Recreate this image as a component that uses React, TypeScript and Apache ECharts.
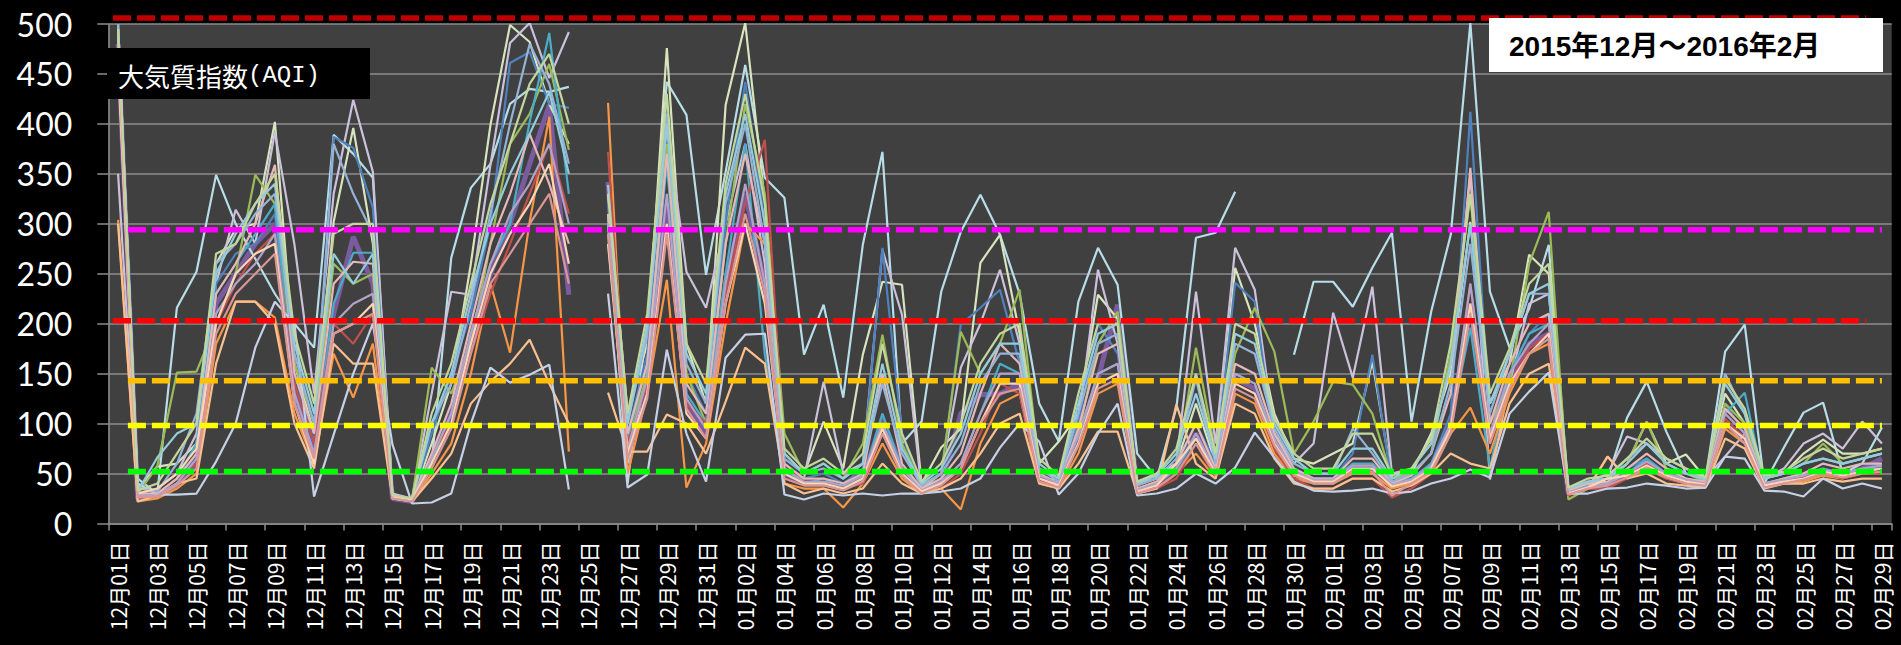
import React, { useEffect, useRef } from "react";
import * as echarts from "echarts";

const categories: string[] = [
  "12月01日","12月02日","12月03日","12月04日","12月05日","12月06日","12月07日","12月08日","12月09日","12月10日",
  "12月11日","12月12日","12月13日","12月14日","12月15日","12月16日","12月17日","12月18日","12月19日","12月20日",
  "12月21日","12月22日","12月23日","12月24日","12月25日","12月26日","12月27日","12月28日","12月29日","12月30日",
  "12月31日","01月01日","01月02日","01月03日","01月04日","01月05日","01月06日","01月07日","01月08日","01月09日",
  "01月10日","01月11日","01月12日","01月13日","01月14日","01月15日","01月16日","01月17日","01月18日","01月19日",
  "01月20日","01月21日","01月22日","01月23日","01月24日","01月25日","01月26日","01月27日","01月28日","01月29日",
  "01月30日","01月31日","02月01日","02月02日","02月03日","02月04日","02月05日","02月06日","02月07日","02月08日",
  "02月09日","02月10日","02月11日","02月12日","02月13日","02月14日","02月15日","02月16日","02月17日","02月18日",
  "02月19日","02月20日","02月21日","02月22日","02月23日","02月24日","02月25日","02月26日","02月27日","02月28日",
  "02月29日",
];

const yTicks: number[] = [0, 50, 100, 150, 200, 250, 300, 350, 400, 450, 500];

// AQI per monitoring station (one array per station)
const st01: (number | null)[] = [495,45,30,216,252,349,300,265,230,200,176,389,370,346,30,22,60,266,336,360,420,435,432,437,null,309,40,200,442,409,249,352,459,346,326,169,219,126,279,372,80,102,232,292,329,289,230,120,82,222,276,239,70,45,116,286,291,332,null,null,169,242,242,217,256,291,102,212,289,501,232,176,215,279,35,40,45,106,142,92,50,45,172,199,40,76,111,121,50,60,96];
const st02: (number | null)[] = [500,35,57,60,80,260,295,300,402,160,90,302,396,280,28,24,80,140,260,399,499,482,420,380,null,330,110,180,476,180,120,419,501,322,70,50,102,55,169,242,239,40,76,95,261,289,190,60,82,110,229,205,40,50,60,120,60,256,200,110,65,60,70,80,162,45,50,90,150,302,120,160,269,250,30,40,45,60,102,60,69,45,130,100,45,50,70,84,70,70,75];
const st03: (number | null)[] = [350,30,35,50,90,240,314,280,392,279,130,330,424,352,30,25,130,232,229,359,481,501,446,492,null,300,60,150,400,252,216,300,380,260,55,45,142,50,60,274,209,35,50,156,200,254,180,55,45,100,254,180,40,45,60,232,80,276,234,90,60,80,211,146,237,50,55,80,160,349,44,140,220,230,35,40,50,87,80,65,55,45,67,90,45,55,80,90,75,102,80];
const st04: (number | null)[] = [490,28,28,40,70,240,270,280,310,150,80,387,376,316,27,24,90,150,210,300,461,472,420,416,null,320,90,170,420,150,110,300,442,300,60,45,50,40,55,276,90,32,45,199,216,234,160,50,40,100,200,170,35,40,60,100,60,241,222,80,55,45,45,70,169,40,45,60,110,412,100,150,190,210,32,38,40,55,65,50,45,40,120,90,40,45,50,55,50,55,60];
const st05: (number | null)[] = [480,30,57,151,152,200,250,349,320,160,100,260,240,250,28,24,156,130,180,280,380,410,460,374,null,290,80,150,380,150,100,280,420,330,90,50,60,45,80,189,80,38,50,192,150,180,234,55,45,90,180,212,38,45,55,176,70,170,216,172,70,102,142,139,110,45,50,70,170,330,100,140,260,312,24,35,40,60,102,55,50,42,120,100,45,50,60,80,60,65,70];
const st06: (number | null)[] = [470,30,30,45,80,230,260,290,320,130,70,220,271,271,26,24,60,110,190,260,300,402,491,330,null,280,86,160,360,130,100,250,380,169,55,40,45,35,45,110,55,35,40,60,110,160,150,45,38,80,150,160,35,40,55,85,55,150,140,80,50,45,45,60,60,40,45,60,100,196,55,150,190,200,32,38,40,50,65,50,45,40,110,131,40,45,50,55,50,55,55];
const st07: (number | null)[] = [480,25,28,38,60,220,250,280,300,130,75,210,287,240,25,22,65,110,180,250,300,360,419,229,null,342,70,140,320,120,90,240,330,240,50,40,40,35,45,105,55,32,40,110,129,130,140,45,38,85,145,219,33,40,55,90,50,145,135,80,50,42,42,55,55,38,42,55,100,220,85,140,180,190,30,36,38,48,60,48,42,38,100,85,38,42,45,50,48,55,65];
const st08: (number | null)[] = [304,22,25,35,50,180,222,222,206,110,60,170,126,180,25,22,50,80,150,240,171,302,407,72,null,421,50,130,244,36,80,200,300,280,40,35,35,16,40,80,45,30,35,14,80,120,130,40,35,70,130,140,30,35,50,70,45,130,120,70,45,40,40,50,50,35,40,50,90,116,70,130,170,180,30,35,67,45,55,45,40,38,95,80,36,40,42,48,45,50,50];
const st09: (number | null)[] = [470,28,30,45,60,200,240,270,290,140,80,200,180,210,26,23,70,100,170,230,280,330,380,310,null,372,80,140,300,120,100,230,320,384,60,40,40,35,40,90,50,30,35,50,90,140,130,45,35,80,140,150,30,35,45,80,45,140,130,75,45,35,35,45,45,26,35,50,100,240,80,140,175,190,28,35,35,45,60,45,40,37,105,85,35,40,45,50,45,50,50];
const st10: (number | null)[] = [300,22,28,40,45,160,222,222,200,100,55,180,160,160,25,22,45,70,120,142,160,184,140,100,null,131,72,72,109,100,70,122,176,160,40,30,35,30,35,60,40,30,35,45,70,100,110,40,35,60,92,92,30,35,119,60,45,120,110,65,40,35,35,45,45,32,38,50,70,60,55,120,150,160,30,35,67,45,50,40,38,36,85,75,35,40,40,45,42,45,45];
const st11: (number | null)[] = [490,40,29,29,30,62,100,176,222,200,27,89,150,200,79,20,21,30,100,156,141,149,159,34,null,230,36,49,174,90,42,166,189,190,29,24,30,28,30,28,30,30,32,35,45,76,100,82,29,50,90,120,28,30,35,50,40,56,91,66,42,33,32,33,35,30,32,40,45,54,46,110,132,151,30,30,35,36,40,38,35,36,67,65,33,32,27,45,35,40,35];
const st12: (number | null)[] = [490,30,30,45,70,230,260,300,359,150,90,240,262,260,27,24,70,120,200,280,330,390,340,280,null,310,90,160,370,140,110,280,370,280,60,45,45,40,50,150,60,35,45,70,130,180,160,50,40,95,170,180,35,42,60,100,55,160,150,90,55,45,45,65,65,40,48,70,130,356,100,160,200,210,33,40,42,55,70,55,45,42,115,95,40,45,50,60,55,60,60];
const st13: (number | null)[] = [500,35,32,60,110,260,280,310,330,170,100,380,330,290,28,25,100,140,220,310,400,480,440,360,null,300,100,190,410,160,120,320,400,280,65,50,55,45,60,140,70,38,50,80,140,170,170,55,42,110,180,190,38,45,65,145,60,180,170,95,60,50,50,95,70,42,50,70,140,280,110,170,230,230,35,42,45,65,80,60,50,44,150,110,45,50,60,65,60,65,70];
const st14: (number | null)[] = [485,32,66,90,100,250,290,320,340,180,110,270,240,270,28,24,100,150,230,300,350,390,432,350,null,339,100,200,400,170,130,330,410,300,70,50,60,45,60,160,75,40,55,90,150,180,180,60,45,120,190,200,40,48,70,130,65,190,180,100,65,50,50,75,75,45,55,80,160,300,120,170,230,240,35,42,45,60,80,60,50,44,140,110,45,50,60,65,60,65,70];
const st15: (number | null)[] = [470,28,28,40,65,210,240,260,290,130,70,200,220,230,25,23,65,110,190,260,310,340,380,300,null,300,75,145,330,125,95,240,340,240,55,42,42,38,48,100,55,33,42,60,110,150,150,48,40,88,150,160,34,40,55,90,52,150,140,85,52,44,44,58,58,39,44,58,100,240,90,150,180,200,31,37,40,50,62,50,44,40,110,90,40,44,48,54,50,55,58];
const st16: (number | null)[] = [460,30,35,50,75,200,250,270,280,120,60,190,200,220,27,24,60,100,180,250,290,320,360,260,null,280,70,130,300,110,85,220,300,220,50,40,40,35,45,95,50,32,40,55,100,140,140,45,38,80,140,150,32,38,60,85,50,140,130,80,50,42,42,55,55,37,42,55,95,220,85,140,170,190,30,36,45,48,58,48,42,39,100,85,38,42,45,52,48,52,55];
const st17: (number | null)[] = [480,26,27,38,55,190,230,250,270,120,65,190,200,210,25,22,55,95,170,240,270,300,330,240,null,290,65,125,290,115,85,220,310,230,45,38,38,33,42,90,48,30,38,55,100,130,135,42,36,78,135,145,30,36,50,80,48,135,125,78,48,40,40,52,52,28,40,52,90,210,80,135,170,185,29,35,38,46,56,46,40,38,100,80,36,40,44,50,46,50,52];
const st18: (number | null)[] = [495,33,40,70,100,270,280,320,350,190,120,290,300,300,28,25,110,160,240,320,380,440,470,400,null,330,110,210,430,180,140,340,430,320,75,55,65,50,70,180,90,42,60,100,160,190,200,65,48,130,200,200,42,50,75,150,70,200,190,105,70,55,55,90,90,48,55,85,180,330,130,175,240,260,36,45,48,65,85,65,55,46,145,115,48,52,65,75,65,70,75];

const stationNames: string[] = [
  "測定局07","測定局01","測定局02","測定局03","測定局04","測定局05","測定局06","測定局08","測定局09",
  "測定局10","測定局11","測定局12","測定局13","測定局14","測定局15","測定局16","測定局17","測定局18",
];
const stationData: (number | null)[][] = [
  st07, st01, st02, st03, st04, st05, st06, st08, st09,
  st10, st11, st12, st13, st14, st15, st16, st17, st18,
];
const stationColors: string[] = [
  "#7A5C9E", "#B7DEE8", "#D7E4BD", "#CCC1DA", "#4F81BD", "#9BBB59", "#4BACC6", "#F79646", "#C0504D",
  "#FAC090", "#C6D0E6", "#E6B9B8", "#95B3D7", "#93CDDD", "#B3A2C7", "#FCD5B5", "#D99694", "#C3D69B",
];

// reference levels
const levelValues: number[] = [506, 294, 203, 143, 98, 52];
const levelStart: number[] = [0.24, 1, 0.24, 1, 1, 1];
const levelEnd: number[] = [89.7, 90.5, 89.7, 90.5, 90.5, 90.5];
const levelColors: string[] = ["#C00000", "#FF00FF", "#FF0000", "#FFC000", "#FFFF00", "#00FF00"];

const GRID_LEFT = 108.3;
const GRID_RIGHT = 9.3;
const GRID_TOP = 24;
const GRID_BOTTOM = 121.5;

export default function App() {
  const ref = useRef<HTMLDivElement>(null);

  useEffect(() => {
    if (!ref.current) return;
    const chart = echarts.init(ref.current, undefined, { renderer: "svg" });

    const dataSeries = stationData.map((d, i) => ({
      name: stationNames[i],
      type: "line",
      data: d,
      xAxisIndex: 0,
      yAxisIndex: 0,
      symbol: "none",
      showSymbol: false,
      connectNulls: false,
      silent: true,
      z: 2,
      lineStyle: { color: stationColors[i], width: i === 0 ? 5 : 2.2 },
      itemStyle: { color: stationColors[i] },
    }));

    const levelSeries = levelValues.map((v, i) => ({
      name: "基準" + (i + 1),
      type: "line",
      data: [
        [levelStart[i], v],
        [levelEnd[i], v],
      ],
      xAxisIndex: 1,
      yAxisIndex: 0,
      symbol: "none",
      showSymbol: false,
      clip: false,
      silent: true,
      z: 5,
      lineStyle: { color: levelColors[i], width: 5.5, type: [18, 6] },
      itemStyle: { color: levelColors[i] },
    }));

    chart.setOption({
      animation: false,
      backgroundColor: "#000000",
      grid: {
        left: GRID_LEFT,
        right: GRID_RIGHT,
        top: GRID_TOP,
        bottom: GRID_BOTTOM,
        show: true,
        backgroundColor: "#404040",
        borderWidth: 0,
        containLabel: false,
      },
      xAxis: [
        {
          type: "category",
          data: categories,
          boundaryGap: true,
          axisLine: { show: true, lineStyle: { color: "#8c8c8c", width: 1.5 } },
          axisTick: {
            show: true,
            interval: 1,
            alignWithLabel: false,
            length: 7,
            lineStyle: { color: "#8c8c8c", width: 1.5 },
          },
          axisLabel: {
            interval: 1,
            rotate: 90,
            color: "#ffffff",
            fontSize: 21,
            fontFamily: "'Noto Sans CJK JP', sans-serif",
            margin: 18,
          },
          splitLine: { show: false },
        },
        { type: "value", min: 0, max: 91, show: false },
      ],
      yAxis: {
        type: "value",
        min: yTicks[0],
        max: yTicks[yTicks.length - 1],
        interval: 50,
        axisLine: { show: true, lineStyle: { color: "#8c8c8c", width: 1.5 } },
        axisTick: { show: true, length: 11, lineStyle: { color: "#8c8c8c", width: 1.5 } },
        axisLabel: {
          color: "#ffffff",
          fontSize: 32,
          fontFamily: "Lato, 'Open Sans', sans-serif",
          margin: 36,
        },
        splitLine: { show: true, lineStyle: { color: "#8c8c8c", width: 1.5 } },
      },
      graphic: [
        {
          type: "rect",
          shape: { x: 107, y: 48, width: 263, height: 51 },
          style: { fill: "#000000" },
          z: 100,
        },
        {
          type: "text",
          x: 118,
          y: 75,
          z: 101,
          style: {
            text: "{a|大気質指数}{b|(AQI)}",
            rich: {
              a: {
                fill: "#ffffff",
                fontSize: 26,
                fontFamily: "'Noto Sans CJK JP', sans-serif",
                verticalAlign: "middle",
              },
              b: {
                fill: "#ffffff",
                fontSize: 24,
                fontFamily: "'Liberation Mono', 'DejaVu Sans Mono', monospace",
                verticalAlign: "middle",
              },
            },
            fill: "#ffffff",
            verticalAlign: "middle",
            align: "left",
          },
        },
        {
          type: "rect",
          shape: { x: 1489, y: 18, width: 394, height: 54 },
          style: { fill: "#ffffff" },
          z: 100,
        },
        {
          type: "text",
          x: 1509,
          y: 46,
          z: 101,
          style: {
            text: "2015年12月～2016年2月",
            fill: "#000000",
            fontSize: 28,
            fontWeight: "bold",
            fontFamily: "'Liberation Sans', 'Noto Sans CJK JP', sans-serif",
            verticalAlign: "middle",
            align: "left",
          },
        },
      ],
      series: [...dataSeries, ...levelSeries],
    });

    return () => {
      chart.dispose();
    };
  }, []);

  return (
    <div
      ref={ref}
      style={{ position: "fixed", left: 0, top: 0, width: 1901, height: 645, background: "#000" }}
    />
  );
}
